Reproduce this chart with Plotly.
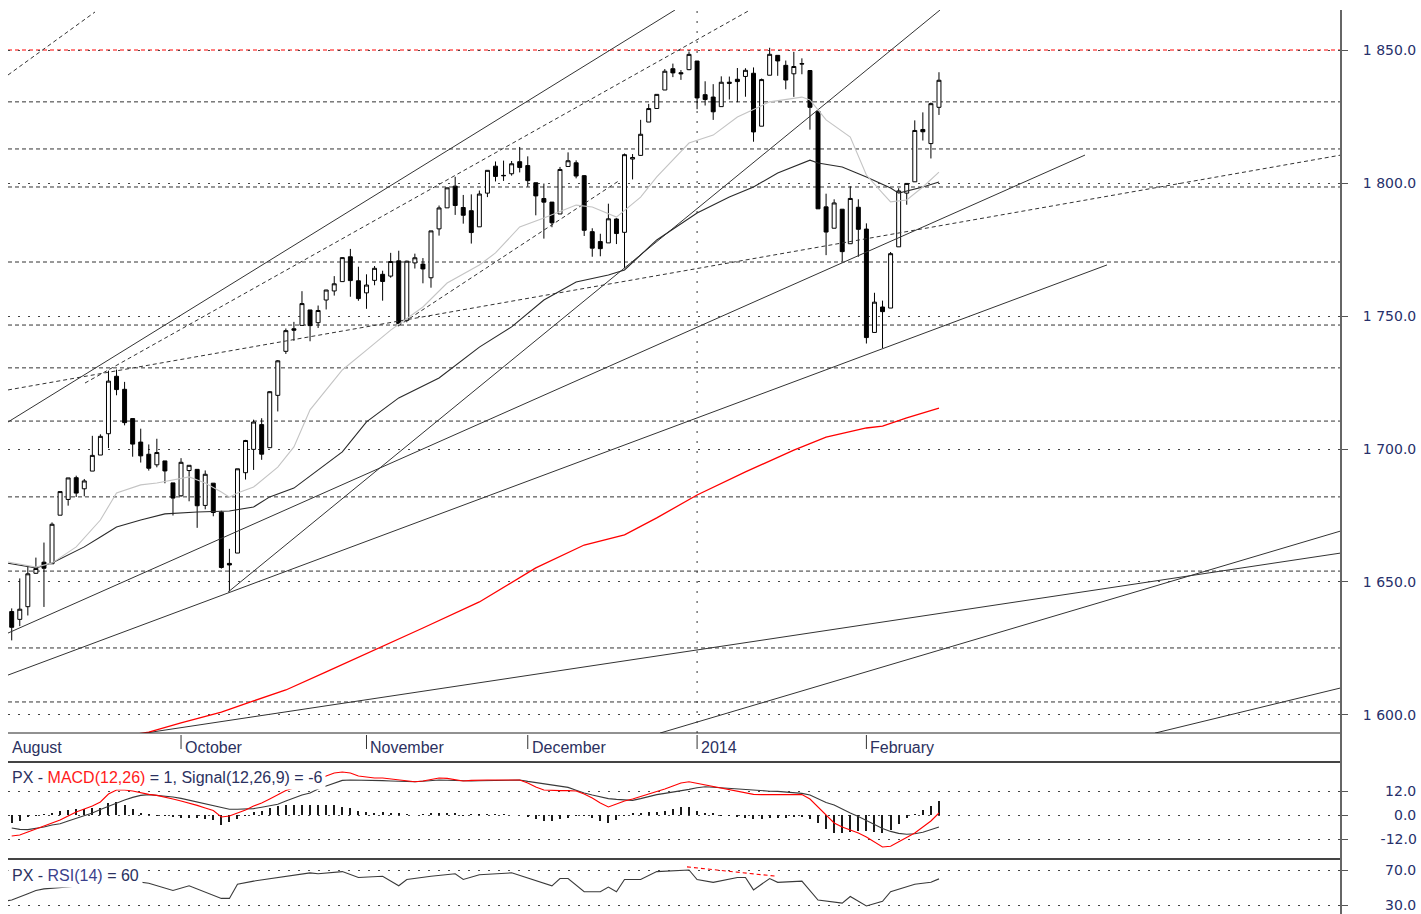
import plotly.graph_objects as go

# ---------------- data ----------------
month_days = [
    ("2013-08", [30]),
    ("2013-09", [3, 4, 5, 6, 9, 10, 11, 12, 13, 16, 17, 18, 19, 20, 23, 24, 25, 26, 27, 30]),
    ("2013-10", [1, 2, 3, 4, 7, 8, 9, 10, 11, 14, 15, 16, 17, 18, 21, 22, 23, 24, 25, 28, 29, 30, 31]),
    ("2013-11", [1, 4, 5, 6, 7, 8, 11, 12, 13, 14, 15, 18, 19, 20, 21, 22, 25, 26, 27, 29]),
    ("2013-12", [2, 3, 4, 5, 6, 9, 10, 11, 12, 13, 16, 17, 18, 19, 20, 23, 24, 26, 27, 30, 31]),
    ("2014-01", [2, 3, 6, 7, 8, 9, 10, 13, 14, 15, 16, 17, 21, 22, 23, 24, 27, 28, 29, 30, 31]),
    ("2014-02", [3, 4, 5, 6, 7, 10, 11, 12, 13, 14]),
]
dates = [f"{m}-{d:02d}" for m, days in month_days for d in days]

opens = [1638.89,
         1635.95, 1640.72, 1653.28, 1657.44, 1656.85, 1675.11, 1681.04, 1689.21, 1685.04, 1691.70,
         1697.73, 1705.74, 1727.34, 1722.44, 1711.44, 1702.60, 1698.02, 1694.05, 1695.52, 1687.26,
         1682.41, 1691.90, 1692.35, 1678.79, 1687.15, 1676.22, 1656.99, 1660.88, 1691.09, 1699.86,
         1709.17, 1700.49, 1720.17, 1736.72, 1745.20, 1746.48, 1752.27, 1747.48, 1756.01, 1759.42,
         1762.93, 1772.27, 1763.24,
         1758.70, 1763.40, 1765.67, 1765.00, 1770.74, 1748.37, 1769.96, 1769.51, 1764.37, 1782.75,
         1790.66, 1798.82, 1790.79, 1789.59, 1783.52, 1796.19, 1806.33, 1802.87, 1803.48, 1808.01,
         1806.55, 1800.10, 1794.15, 1792.82, 1788.36, 1806.21, 1807.60, 1802.76, 1781.71, 1777.98,
         1777.48, 1786.47, 1781.46, 1809.00, 1810.39, 1822.92, 1828.02, 1834.96, 1842.97, 1841.47,
         1842.61,
         1845.86, 1833.21, 1832.31, 1828.71, 1837.90, 1839.00, 1840.06, 1841.26, 1821.36, 1840.52,
         1847.99, 1844.23, 1841.05, 1844.71, 1842.29, 1826.96, 1791.03, 1783.00, 1790.15, 1777.17,
         1790.88,
         1782.68, 1743.82, 1753.38, 1752.99, 1776.01, 1796.20, 1800.45, 1820.12, 1814.82, 1828.46]
highs = [1640.08,
         1651.35, 1655.72, 1659.17, 1664.83, 1672.40, 1684.09, 1689.13, 1689.97, 1688.73, 1704.95,
         1705.52, 1729.44, 1729.86, 1725.23, 1711.44, 1707.63, 1701.71, 1703.85, 1695.52, 1687.26,
         1696.55, 1693.87, 1692.35, 1691.94, 1687.15, 1676.79, 1662.47, 1692.56, 1703.44, 1711.03,
         1711.57, 1721.76, 1733.45, 1745.31, 1747.79, 1759.33, 1752.27, 1753.94, 1759.82, 1764.99,
         1772.09, 1775.22, 1768.53,
         1765.67, 1768.78, 1767.03, 1773.74, 1774.54, 1770.78, 1773.44, 1771.78, 1782.00, 1791.53,
         1798.22, 1802.33, 1795.51, 1795.73, 1797.16, 1804.84, 1808.10, 1808.42, 1808.27, 1813.55,
         1810.02, 1800.10, 1799.80, 1792.82, 1806.04, 1811.52, 1808.52, 1802.97, 1782.99, 1780.92,
         1792.22, 1786.77, 1811.08, 1810.88, 1823.75, 1829.75, 1833.32, 1842.84, 1844.89, 1842.47,
         1849.44,
         1845.86, 1838.24, 1837.16, 1840.10, 1840.02, 1843.23, 1843.15, 1843.45, 1839.26, 1850.84,
         1847.99, 1846.04, 1849.31, 1846.87, 1842.29, 1826.96, 1795.98, 1793.87, 1790.15, 1798.77,
         1793.88,
         1784.83, 1758.73, 1755.79, 1774.06, 1798.03, 1799.94, 1823.54, 1826.55, 1830.25, 1841.65]
lows = [1628.05,
        1633.41, 1637.41, 1653.07, 1640.62, 1656.85, 1675.11, 1678.70, 1681.96, 1682.22, 1691.70,
        1697.73, 1700.35, 1720.20, 1708.89, 1697.10, 1694.90, 1691.88, 1693.11, 1687.11, 1674.99,
        1682.07, 1680.34, 1670.36, 1677.33, 1674.70, 1655.03, 1646.47, 1660.88, 1688.52, 1692.13,
        1695.93, 1700.49, 1714.12, 1735.74, 1740.67, 1746.48, 1740.50, 1745.50, 1752.45, 1757.67,
        1762.93, 1757.24, 1755.72,
        1752.70, 1761.56, 1755.76, 1764.40, 1746.20, 1747.63, 1767.85, 1762.29, 1760.64, 1780.22,
        1790.66, 1788.00, 1784.72, 1777.23, 1783.52, 1794.70, 1800.58, 1800.77, 1802.77, 1803.98,
        1798.60, 1787.85, 1779.09, 1783.38, 1788.36, 1806.21, 1801.75, 1780.09, 1772.28, 1772.45,
        1777.48, 1777.05, 1767.99, 1801.35, 1810.25, 1822.92, 1828.02, 1834.96, 1839.81, 1838.77,
        1842.41,
        1827.74, 1829.13, 1823.73, 1828.71, 1831.40, 1830.38, 1832.43, 1815.52, 1821.36, 1840.52,
        1840.30, 1835.23, 1832.38, 1840.88, 1820.06, 1790.29, 1772.88, 1783.00, 1770.45, 1777.17,
        1772.26,
        1739.66, 1743.82, 1737.92, 1752.99, 1776.01, 1791.83, 1800.41, 1815.97, 1809.22, 1825.59]
closes = [1632.97,
          1639.77, 1653.08, 1655.08, 1655.17, 1671.71, 1683.99, 1689.13, 1683.42, 1687.99, 1697.60,
          1704.76, 1725.52, 1722.34, 1709.91, 1701.84, 1697.42, 1692.77, 1698.67, 1691.75, 1681.55,
          1695.00, 1693.87, 1678.66, 1690.50, 1676.12, 1655.45, 1656.40, 1692.56, 1703.20, 1710.14,
          1698.06, 1721.54, 1733.15, 1744.50, 1744.66, 1754.67, 1746.38, 1752.07, 1759.77, 1762.11,
          1771.95, 1763.31, 1756.54,
          1761.64, 1767.93, 1762.97, 1770.49, 1747.15, 1770.61, 1771.89, 1767.69, 1782.00, 1790.62,
          1798.18, 1791.53, 1787.87, 1781.37, 1795.85, 1804.76, 1802.48, 1802.75, 1807.23, 1805.81,
          1800.90, 1795.15, 1792.81, 1785.03, 1805.09, 1808.37, 1802.62, 1782.22, 1775.50, 1775.32,
          1786.54, 1781.00, 1810.65, 1809.60, 1818.32, 1827.99, 1833.32, 1842.02, 1841.40, 1841.07,
          1848.36,
          1831.98, 1831.37, 1826.77, 1837.88, 1837.49, 1838.13, 1842.37, 1819.20, 1838.88, 1848.38,
          1845.89, 1838.70, 1843.80, 1844.86, 1828.46, 1790.29, 1781.56, 1792.50, 1774.20, 1794.19,
          1782.59,
          1741.89, 1755.20, 1751.64, 1773.43, 1797.02, 1799.84, 1819.75, 1819.26, 1829.83, 1838.63]

# moving averages (at key days; day index -> value)
ma20_day = [-1, 3, 5, 8, 11, 13, 16, 18, 22, 24, 26, 27, 28, 30, 33, 35, 37, 41, 44, 47, 51, 54,
            58, 60, 63, 66, 70, 72, 75, 76, 78, 80, 84, 87, 90, 94, 98, 99, 101, 104, 105, 106,
            108, 109, 111, 113, 115]
ma20_val = [1657.8, 1655.6, 1657.1, 1663.2, 1673.3, 1683.5, 1686.5, 1687.2, 1689.5, 1687.2, 1683.8,
            1681.9, 1683.5, 1685.7, 1693.2, 1700.8, 1714.7, 1729.7, 1737.2, 1744.7, 1753.4, 1762.4,
            1769.2, 1773.7, 1783.5, 1786.8, 1791.7, 1791.0, 1787.2, 1789.8, 1794.7, 1802.3, 1815.0,
            1818.0, 1824.8, 1830.5, 1832.3, 1831.2, 1823.7, 1817.3, 1809.8, 1803.0, 1796.2, 1792.9,
            1793.6, 1798.5, 1804.1]
ma50_day = [-1, 3, 5, 9, 11, 13, 16, 19, 23, 27, 30, 32, 35, 37, 41, 44, 48, 53, 58, 62, 66, 70,
            74, 76, 80, 85, 89, 92, 95, 99, 100, 103, 106, 109, 110, 113, 115]
ma50_val = [1657.3, 1655.3, 1657.1, 1663.2, 1666.9, 1670.7, 1673.3, 1675.6, 1676.3, 1676.7, 1678.2,
            1682.0, 1685.3, 1689.8, 1698.9, 1710.2, 1719.2, 1726.7, 1738.3, 1745.9, 1756.0, 1762.8,
            1765.4, 1767.3, 1778.6, 1788.7, 1794.7, 1798.5, 1803.8, 1808.6, 1807.5, 1806.0, 1802.3,
            1798.1, 1796.2, 1798.5, 1800.4]
ma200_day = [12, 17, 21, 26, 30, 34, 39, 45, 51, 58, 65, 71, 76, 80, 85, 91, 97, 101, 106, 108,
             111, 115]
ma200_val = [1591.0, 1593.6, 1597.0, 1601.1, 1605.3, 1609.4, 1616.2, 1624.4, 1632.7, 1642.5, 1655.3,
             1663.9, 1667.7, 1674.1, 1682.7, 1691.4, 1699.6, 1704.5, 1707.9, 1708.6, 1711.7, 1715.4]

# MACD(12,26) and signal(9), one value per day
macd = [-10.5, -10, -8.5, -7, -5.5, -4, -2.5, -0.5, 1.5, 3,
        4.5, 6.5, 10.5, 12.5, 12.5, 12, 11, 10.3, 9.8, 9,
        8, 7, 6, 4.8, 3.5, 2.2, -1, -0.5, 1, 2.5,
        4.5, 6, 8, 10, 12.2, 13.5, 15, 16, 18, 19.5,
        21, 21.5, 21, 19.5, 19, 18.5, 18.5, 18, 17.5, 17,
        16.6, 17, 17.8, 18.5, 18.3, 17.8, 17, 17.3, 17.5, 17.5,
        17.5, 17.5, 17.5, 17.5, 16, 14, 12.5, 12.2, 12.2, 12.2,
        12, 10.5, 8.5, 6, 4, 5.5, 7, 8, 9.2, 10.5,
        11.7, 13, 14.5, 16, 16.6, 15.8, 15.2, 14.5, 13.5, 12.8,
        12, 11, 10.3, 10.2, 10.2, 10.2, 10.2, 10.2, 10.2, 8,
        4, -0.5, -4, -6, -7.5, -9, -11, -13.5, -16, -15.6,
        -13.5, -11, -9, -6, -3, 1]
signal = [-6.5, -7.2, -7.3, -6.8, -6, -5, -4.4, -3, -1.6, -0.2,
          1, 2.8, 4.5, 5.8, 7.5, 8.8, 9.8, 10.2, 9.9, 9.4,
          9, 8.3, 7.4, 6.5, 5.6, 4.8, 3.8, 2.9, 2.9, 2.9,
          3.2, 3.9, 4.6, 5.4, 7, 8.5, 10, 11, 13, 14.5,
          16, 17.3, 17.5, 17.5, 17.5, 17.3, 17.2, 17, 16.9, 16.7,
          16.6, 16.9, 17.2, 17.5, 17.4, 17.2, 17.1, 17, 17.1, 17.2,
          17.3, 17.4, 17.5, 17.5, 16.8, 16.2, 15.6, 15, 14.4, 13.8,
          12.4, 11, 10, 9, 8.2, 7.8, 7.5, 7.3, 8.2, 9.2,
          10.2, 10.8, 11.4, 12, 12.8, 13.6, 14.1, 13.9, 13.6, 13.2,
          12.9, 12.5, 12.2, 12, 11.9, 11.8, 11.5, 11.2, 10.8, 10,
          8, 6.3, 5, 2.8, 1, -0.8, -2.8, -4.8, -6.8, -8.2,
          -9.2, -9.6, -9.4, -8.6, -7.4, -6]
histogram = [m - s for m, s in zip(macd, signal)]

# RSI(14) read at key days
rsi_day = [-1, 0, 2, 3, 4, 7, 10, 15, 17, 20, 22, 24, 26, 27, 28, 30, 34, 37, 38, 41, 43, 46, 48,
           49, 52, 55, 56, 58, 62, 67, 68, 69, 71, 73, 74, 75, 76, 78, 80, 84, 85, 87, 90, 91, 92,
           94, 95, 98, 100, 101, 103, 104, 106, 108, 109, 112, 114, 115]
rsi_val = [34.8, 36.2, 43.3, 46.9, 48.7, 50.8, 54.0, 57.5, 55.1, 46.9, 52.2, 45.5, 38.0, 38.0,
           54.0, 57.5, 62.9, 66.8, 65.7, 68.2, 61.5, 62.9, 52.2, 59.3, 62.9, 65.7, 59.3, 64.7,
           66.8, 52.2, 60.4, 60.4, 45.5, 45.5, 50.8, 45.5, 59.3, 59.3, 68.2, 70.0, 59.3, 56.1,
           61.5, 61.5, 47.6, 60.4, 56.1, 57.5, 36.2, 34.8, 32.7, 40.1, 29.5, 34.8, 45.5, 54.0,
           56.1, 60.0]
rsi_div_day = [83.75, 94.9]
rsi_div_val = [73.5, 62.9]

# horizontal levels and trend lines (day index, price)
level_red = 1850.0
levels = [1830.5, 1812.8, 1798.5, 1770.3, 1746.6, 1730.5, 1710.5, 1682.0, 1654.1, 1625.2, 1604.9]
solid_x0 = [-0.46, 26.83, -0.46, -0.46, 16.53, 80.4, 141.8]
solid_y0 = [1710.15, 1646.2, 1630.8, 1615.0, 1593.2, 1593.2, 1593.2]
solid_x1 = [82.26, 115.13, 133.11, 135.84, 164.86, 164.86, 164.86]
solid_y1 = [1865.04, 1865.04, 1810.5, 1769.2, 1660.9, 1669.2, 1610.2]
dash_x0 = [-0.46, 9.09, -0.46, 47.9]
dash_y0 = [1840.6, 1724.8, 1722.2, 1746.2]
dash_x1 = [10.33, 91.57, 164.86, 75.44]
dash_y1 = [1864.3, 1865.04, 1810.5, 1801.1]

month_labels = ["August", "October", "November", "December", "2014", "February"]
month_pos = [-0.4, 21, 44, 64, 85, 106]
year_break = 85

price_ticks = [1600, 1650, 1700, 1750, 1800, 1850]
price_ticktext = ["1 600.0", "1 650.0", "1 700.0", "1 750.0", "1 800.0", "1 850.0"]
macd_ticks = [-12, 0, 12]
macd_ticktext = ["\u2007\u2007-12.0", "\u2007\u2007\u2007\u20080.0", "\u2007\u2007\u200812.0"]
rsi_ticks = [30, 70]
rsi_ticktext = ["\u2007\u2007\u200830.0", "\u2007\u2007\u200870.0"]

# ---------------- figure ----------------
W, H = 1421, 914
def py(px):
    return 1 - px / H

X_RANGE = [-0.46, 164.86]
LINE = "#333333"
TXT = "#2b3160"

fig = go.Figure()

# trend lines
for a, b, c, d in zip(solid_x0, solid_y0, solid_x1, solid_y1):
    fig.add_trace(go.Scatter(x=[a, c], y=[b, d], mode="lines",
                             line=dict(color=LINE, width=1), hoverinfo="skip"))
for a, b, c, d in zip(dash_x0, dash_y0, dash_x1, dash_y1):
    fig.add_trace(go.Scatter(x=[a, c], y=[b, d], mode="lines",
                             line=dict(color=LINE, width=1, dash="4px,3px"), hoverinfo="skip"))

# moving averages
fig.add_trace(go.Scatter(x=ma200_day, y=ma200_val, mode="lines",
                         line=dict(color="#ff0000", width=1.3), hoverinfo="skip"))
fig.add_trace(go.Scatter(x=ma50_day, y=ma50_val, mode="lines",
                         line=dict(color="#2a2a2a", width=1.1), hoverinfo="skip"))
fig.add_trace(go.Scatter(x=ma20_day, y=ma20_val, mode="lines",
                         line=dict(color="#c4c4c4", width=1.1), hoverinfo="skip"))

days = list(range(len(dates)))
fig.add_trace(go.Candlestick(
    x=days, open=opens, high=highs, low=lows, close=closes,
    increasing=dict(line=dict(color="#000000", width=1), fillcolor="#ffffff"),
    decreasing=dict(line=dict(color="#000000", width=1), fillcolor="#000000"),
    whiskerwidth=0, hoverinfo="skip", text=dates))

# MACD panel
fig.add_trace(go.Bar(x=days, y=histogram, width=0.14, marker=dict(color="#1a1a1a", line=dict(width=0)),
                     xaxis="x2", yaxis="y2", hoverinfo="skip"))
fig.add_trace(go.Scatter(x=days, y=signal, mode="lines", line=dict(color="#3a3a3a", width=1.1),
                         xaxis="x2", yaxis="y2", hoverinfo="skip"))
fig.add_trace(go.Scatter(x=days, y=macd, mode="lines", line=dict(color="#ff0000", width=1.1),
                         xaxis="x2", yaxis="y2", hoverinfo="skip"))

# RSI panel
fig.add_trace(go.Scatter(x=rsi_day, y=rsi_val, mode="lines", line=dict(color="#3a3a3a", width=1.1),
                         xaxis="x3", yaxis="y3", hoverinfo="skip"))
fig.add_trace(go.Scatter(x=rsi_div_day, y=rsi_div_val, mode="lines",
                         line=dict(color="#ff0000", width=1.1, dash="4px,3px"),
                         xaxis="x3", yaxis="y3", hoverinfo="skip"))

shapes = []
for lv in levels:
    shapes.append(dict(type="line", xref="paper", yref="y", x0=0, x1=1, y0=lv, y1=lv, layer="below",
                       line=dict(color=LINE, width=1, dash="4px,3px")))
shapes.append(dict(type="line", xref="paper", yref="y", x0=0, x1=1, y0=level_red, y1=level_red,
                   layer="below", line=dict(color="#ff0000", width=1, dash="4px,3px")))
shapes.append(dict(type="line", xref="x", yref="y domain", x0=year_break, x1=year_break, y0=0, y1=1,
                   layer="below", line=dict(color=LINE, width=1, dash="2px,8px")))
# panel separators and right axis line
shapes.append(dict(type="line", xref="paper", yref="paper", x0=0, x1=1, y0=py(733), y1=py(733),
                   line=dict(color="#222222", width=1)))
shapes.append(dict(type="line", xref="paper", yref="paper", x0=0, x1=1, y0=py(762), y1=py(762),
                   line=dict(color="#444444", width=2)))
shapes.append(dict(type="line", xref="paper", yref="paper", x0=0, x1=1, y0=py(859), y1=py(859),
                   line=dict(color="#444444", width=2)))
shapes.append(dict(type="line", xref="paper", yref="paper", x0=1, x1=1, y0=0, y1=py(10),
                   line=dict(color="#666666", width=2)))
for mp in month_pos[1:]:
    shapes.append(dict(type="line", xref="x", yref="paper", x0=mp, x1=mp, y0=py(749), y1=py(735),
                       line=dict(color="#333333", width=1)))

annotations = []
for lab, mp in zip(month_labels, month_pos):
    annotations.append(dict(x=mp, xref="x", y=py(747), yref="paper", text=lab, showarrow=False,
                            xanchor="left", yanchor="middle", xshift=2,
                            font=dict(family="Liberation Sans, Arial", size=16, color=TXT)))
annotations.append(dict(x=0, xref="paper", y=py(777), yref="paper", showarrow=False,
                        xanchor="left", yanchor="middle", bgcolor="#ffffff", borderpad=3,
                        text='PX - <span style="color:#ff1a1a">MACD(12,26)</span> = 1, Signal(12,26,9) = -6',
                        font=dict(family="Liberation Sans, Arial", size=16, color=TXT)))
annotations.append(dict(x=0, xref="paper", y=py(875), yref="paper", showarrow=False,
                        xanchor="left", yanchor="middle", bgcolor="#ffffff", borderpad=3,
                        text='PX - <span style="color:#3b3f8c">RSI(14)</span> = 60',
                        font=dict(family="Liberation Sans, Arial", size=16, color=TXT)))

tickfont = dict(family="DejaVu Sans", size=14, color="#27306b")
common_y = dict(side="right", ticks="outside", ticklen=6, tickcolor="#555555", showline=False,
                zeroline=False, showgrid=True, gridcolor="#444444", gridwidth=1, griddash="2px,8px",
                tickfont=tickfont, ticklabelstandoff=12, fixedrange=True)

fig.update_layout(
    width=W, height=H,
    margin=dict(l=8, r=80, t=0, b=0),
    paper_bgcolor="#ffffff", plot_bgcolor="#ffffff",
    showlegend=False,
    bargap=0,
    xaxis=dict(domain=[0, 1], range=X_RANGE, anchor="y", visible=False,
               rangeslider=dict(visible=False), fixedrange=True),
    xaxis2=dict(domain=[0, 1], range=X_RANGE, anchor="y2", visible=False, matches="x"),
    xaxis3=dict(domain=[0, 1], range=X_RANGE, anchor="y3", visible=False, matches="x"),
    yaxis=dict(domain=[py(733), py(10)], range=[1593.23, 1865.04], anchor="x",
               tickvals=price_ticks, ticktext=price_ticktext, **common_y),
    yaxis2=dict(domain=[py(858), py(762)], range=[-21.5, 26.5], anchor="x2",
                tickvals=macd_ticks, ticktext=macd_ticktext, **common_y),
    yaxis3=dict(domain=[0, py(861)], range=[20.42, 80.14], anchor="x3",
                tickvals=rsi_ticks, ticktext=rsi_ticktext, **common_y),
    shapes=shapes,
    annotations=annotations,
)

fig.write_html(
    "out.html", config={"displayModeBar": False},
    post_script=("document.body.style.margin='0px';document.body.style.overflow='hidden';"))
